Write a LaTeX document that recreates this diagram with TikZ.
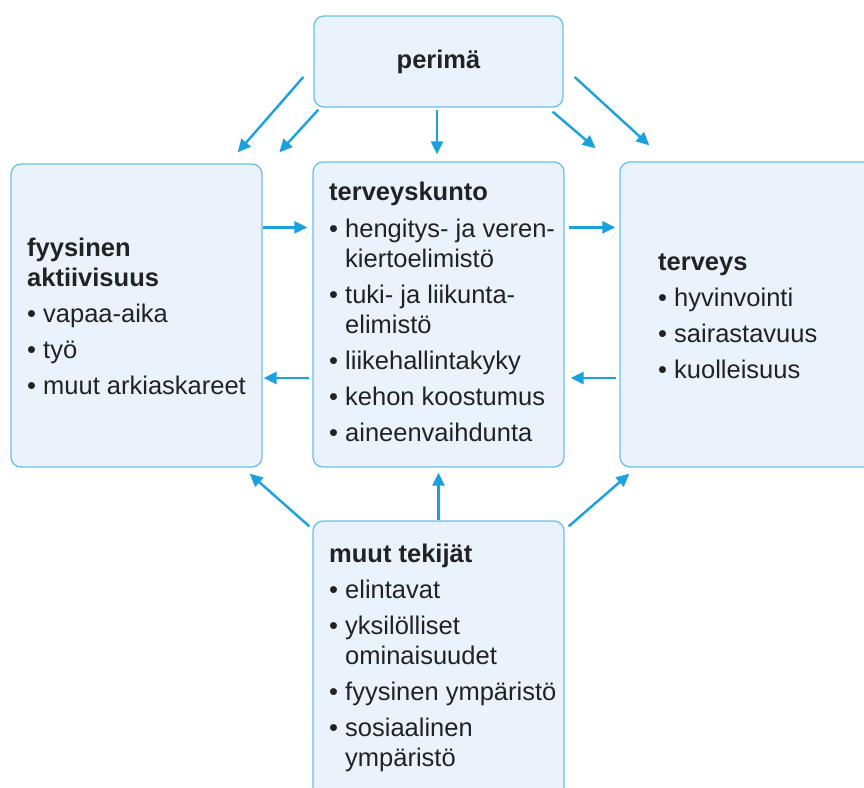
\documentclass[tikz,border=0pt]{standalone}
\usepackage{fontspec}
\setmainfont{Liberation Sans}
\usetikzlibrary{arrows.meta,calc}
\definecolor{arr}{HTML}{1BA1DD}
\definecolor{bord}{HTML}{6CC0EA}
\definecolor{boxfill}{HTML}{EAF2FC}
\definecolor{txt}{HTML}{222222}
\newcommand{\bl}{\textbullet\ }
\newcommand{\ind}{\hphantom{\textbullet\ }}
\tikzset{
  box/.style={draw=bord, fill=boxfill, line width=1.3pt, rounded corners=10pt, inner sep=0pt},
  txtblock/.style={anchor=north west, inner sep=0pt, align=left, text=txt, font=\fontsize{25.5}{30}\selectfont},
  arrow/.style={draw=arr, line width=2.4pt, -{Triangle[length=13pt,width=12pt]}}
}
\begin{document}
\begin{tikzpicture}[x=1pt,y=-1pt]
\clip (0,0) rectangle (864,787);
\fill[white] (0,0) rectangle (864,787);
% boxes
\node[box, minimum width=249pt, minimum height=91pt] (per) at (438.5,61.5) {};
\node[box, minimum width=251pt, minimum height=303pt] (fa) at (136.5,315.5) {};
\node[box, minimum width=251pt, minimum height=305pt] (tk) at (438.5,314.5) {};
\node[box, minimum width=260pt, minimum height=305pt] (ter) at (750,314.5) {};
\node[box, minimum width=251pt, minimum height=279pt] (mt) at (438.5,660.5) {};
% texts (north = first baseline - 21)
\node[inner sep=0pt, text=txt, font=\fontsize{25.5}{30}\selectfont\bfseries] (tper) at (438.5,61.5) {perimä};
\node[txtblock] (tfa) at (27,235) {\strut\textbf{fyysinen}\\\textbf{aktiivisuus}\\[6pt]\bl vapaa-aika\\[6pt]\bl työ\\[6pt]\bl muut arkiaskareet};
\node[txtblock] (ttk) at (329,179) {\strut\textbf{terveyskunto}\\[7pt]\bl hengitys- ja veren-\\\ind kiertoelimistö\\[6pt]\bl tuki- ja liikunta-\\\ind elimistö\\[6pt]\bl liikehallintakyky\\[6pt]\bl kehon koostumus\\[6pt]\bl aineenvaihdunta};
\node[txtblock] (tter) at (658,249) {\strut\textbf{terveys}\\[6pt]\bl hyvinvointi\\[6pt]\bl sairastavuus\\[6pt]\bl kuolleisuus};
\node[txtblock] (tmt) at (329,541) {\strut\textbf{muut tekijät}\\[6pt]\bl elintavat\\[6pt]\bl yksilölliset\\\ind ominaisuudet\\[6pt]\bl fyysinen ympäristö\\[6pt]\bl sosiaalinen\\\ind ympäristö};
% arrows from perimä
\draw[arrow] ($(per.west)+(-10,15.5)$) -- ($(fa.north east)+(-25,-11)$);
\draw[arrow] ($(per.south west)+(5,2)$) -- ($(tk.north west)+(-33,-9)$);
\draw[arrow] ($(per.south)+(-1.5,2)$) -- ($(tk.north)+(-1.5,-7)$);
\draw[arrow] ($(per.south east)+(-11,4)$) -- ($(tk.north east)+(31,-13)$);
\draw[arrow] ($(per.east)+(11,15.5)$) -- ($(ter.north west)+(30,-16)$);
% horizontal arrows
\draw[arrow] ($(fa.north east)+(0,64)$) -- ($(tk.north west)+(-5,66)$);
\draw[arrow] ($(tk.west)+(-3,63.5)$) -- ($(fa.east)+(1,62.5)$);
\draw[arrow] ($(tk.north east)+(4,66)$) -- ($(ter.north west)+(-4,66)$);
\draw[arrow] ($(ter.west)+(-3,63.5)$) -- ($(tk.east)+(6,63.5)$);
% arrows from muut tekijät
\draw[arrow] ($(mt.north west)+(-3,6)$) -- ($(fa.south east)+(-13,6)$);
\draw[arrow] ($(mt.north)+(0,0)$) -- ($(tk.south)+(0,5)$);
\draw[arrow] ($(mt.north east)+(4,6)$) -- ($(ter.south west)+(10,6)$);
\end{tikzpicture}
\end{document}
